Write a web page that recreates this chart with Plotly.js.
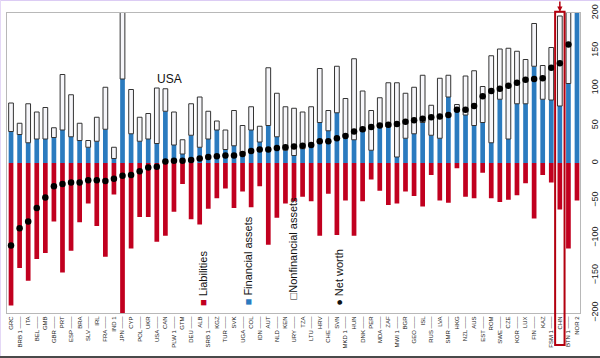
<!DOCTYPE html>
<html>
<head>
<meta charset="utf-8">
<script src="https://cdn.plot.ly/plotly-3.0.1.min.js"></script>
<style>
  html, body { margin: 0; padding: 0; background: #ffffff; }
  #wrap { position: relative; width: 600px; height: 358px; overflow: hidden; }
  #chart { position: absolute; left: 0; top: 0; width: 600px; height: 358px; }
  #topline { position: absolute; left: 0; top: 0; width: 600px; height: 1px; background: #dcccf4; }
  #leftline { position: absolute; left: 0; top: 0; width: 1px; height: 358px; background: #e4d8f6; }
  #bottomband { position: absolute; left: 0; top: 356px; width: 600px; height: 2px; background: #4a4a4a; }
</style>
</head>
<body>
<div id="wrap">
  <div id="chart"></div>
  <div id="topline"></div>
  <div id="leftline"></div>
  <div id="bottomband"></div>
</div>
<script>
// Country codes (x categories)
const categories = ["GRC","BRB 1","ITA","BEL","GMB","GBR","PRT","ESP","BRA","SLV","IRL","FRA","IND 1","JPN","CYP","POL","UKR","USA","CAN","PLW 1","GTM","DEU","ALB","SRB 1","KGZ","TUR","SVK","UGA","COL","IDN","AUT","NLD","KEN","URY","TZA","LTU","HRV","CHE","SVN","MKD 1","HUN","DNK","PER","MDA","ZAF","MWI 1","BGR","GEO","ISL","RUS","LVA","SMR","HKG","NZL","AUS","EST","ROM","SWE","CZE","KOR","LUX","FIN","KAZ","FSM 1","CHN","BTN 1","NOR 2"];

// Liabilities (negative)
const liabilities = [-190,-140,-157,-128,-120,-78,-146,-117,-79,-54,-84,-125,-42,-225,-114,-72,-72,-105,-97,-65,-28,-75,-82,-61,-47,-34,-60,-38,-59,-31,-109,-73,-54,-51,-45,-51,-97,-41,-96,-50,-97,-51,-22,-37,-56,-54,-38,-44,-58,-16,-50,-53,-7,-45,-47,-13,-47,-52,-49,-43,-27,-74,-16,-26,-62,-114,-50];

// Financial assets
const financialAssets = [42,38,27,32,32,34,44,35,30,21,29,45,6,112,39,29,32,26,69,24,12,37,21,32,44,18,23,13,44,28,50,35,17,10,19,26,54,43,67,35,31,42,17,48,48,8,33,39,54,37,33,88,73,64,50,54,27,85,32,79,79,129,85,84,76,106,240];

// Nonfinancial assets (stacked on top of financial assets)
const nonfinancialAssets = [38,15,52,36,42,13,74,56,23,9,32,56,15,96,59,32,34,74,30,44,19,42,67,37,12,26,47,37,31,21,77,58,58,63,49,49,72,27,62,51,108,54,53,39,59,99,60,62,63,40,80,29,5,52,73,48,116,67,121,70,59,57,45,70,120,166,40];

// Net worth
const netWorth = [-110,-87,-78,-60,-46,-31,-28,-26,-26,-23,-23,-24,-21,-17,-16,-11,-6,-5,2,3,3,4,6,8,9,10,10,12,16,18,18,20,21,22,23,24,29,29,33,36,42,45,48,50,51,52,55,57,59,61,62,64,71,71,76,89,96,99,103,107,111,112,113,127,133,158,240];

// Tick labels: every second label is pushed to a lower row with a leader line
const tickLabels = categories.map((c, i) => (i % 2 === 1 ? c + " \u2014\u2014" : c));
const yTicks = [-200, -150, -100, -50, 0, 50, 100, 150, 200];

const highlight = "CHN";
const hIdx = categories.indexOf(highlight);

const RED = "#c1001f", BLUE = "#2b7bbf";

const traces = [
  { type: "bar", name: "Liabilities", x: categories, y: liabilities,
    marker: { color: RED, line: { width: 0 } }, showlegend: false, hoverinfo: "x+y" },
  { type: "bar", name: "Financial assets", x: categories, y: financialAssets,
    marker: { color: BLUE, line: { width: 0 } }, showlegend: false, hoverinfo: "x+y" },
  { type: "bar", name: "Nonfinancial assets", x: categories, y: nonfinancialAssets,
    marker: { color: "#f6f6fa", line: { color: "#333333", width: 1 } }, showlegend: false, hoverinfo: "x+y" },
  { type: "scatter", mode: "markers", name: "Net worth", x: categories, y: netWorth,
    marker: { color: "#000000", size: 6.5 }, showlegend: false, hoverinfo: "x+y" }
];

const layout = {
  width: 600, height: 358,
  margin: { l: 7, r: 20, t: 13, b: 45, pad: 0 },
  paper_bgcolor: "#ffffff", plot_bgcolor: "#ffffff",
  barmode: "relative", bargap: 0.45,
  font: { family: "Liberation Sans, Arial, sans-serif", color: "#222222" },
  xaxis: {
    type: "category", tickmode: "array", tickvals: categories, ticktext: tickLabels,
    tickangle: -90, tickfont: { size: 6, color: "#222222" },
    range: [-0.47, 66.35], showgrid: false, zeroline: false,
    showline: true, mirror: true, linecolor: "#b8b8b8", linewidth: 1, ticks: ""
  },
  yaxis: {
    side: "right", range: [-200, 200], tickmode: "array", tickvals: yTicks,
    tickangle: -90, tickfont: { size: 9, color: "#222222" }, ticklabelstandoff: 6,
    showgrid: false, zeroline: false,
    showline: true, mirror: true, linecolor: "#b8b8b8", linewidth: 1, ticks: ""
  },
  shapes: [
    { type: "rect", xref: "x", yref: "paper", x0: hIdx - 0.55, x1: hIdx + 0.55, y0: -0.107, y1: 1.004,
      line: { color: "#b3000f", width: 2 }, fillcolor: "rgba(0,0,0,0)", layer: "above" }
  ],
  annotations: [
    { xref: "x", yref: "y", x: "USA", y: 112, text: "USA", showarrow: false,
      xanchor: "left", yanchor: "middle", xshift: -2, font: { size: 12, color: "#111111" } },
    { xref: "x", yref: "paper", x: highlight, y: 1.004, text: "", showarrow: true,
      ax: 0, ay: -13, arrowhead: 2, arrowsize: 0.7, arrowwidth: 1.5, arrowcolor: "#b3000f" },
    { xref: "paper", yref: "paper", x: 0.342, y: 0.018, xanchor: "center", yanchor: "bottom",
      textangle: -90, showarrow: false, font: { size: 11, color: "#111111" },
      text: "<span style='color:" + RED + "'>\u25A0</span> Liabilities" },
    { xref: "paper", yref: "paper", x: 0.421, y: 0.018, xanchor: "center", yanchor: "bottom",
      textangle: -90, showarrow: false, font: { size: 11, color: "#111111" },
      text: "<span style='color:" + BLUE + "'>\u25A0</span> Financial assets" },
    { xref: "paper", yref: "paper", x: 0.499, y: 0.04, xanchor: "center", yanchor: "bottom",
      textangle: -90, showarrow: false, font: { size: 11, color: "#111111" },
      text: "\u25A1Nonfinancial assets" },
    { xref: "paper", yref: "paper", x: 0.579, y: 0.018, xanchor: "center", yanchor: "bottom",
      textangle: -90, showarrow: false, font: { size: 11, color: "#111111" },
      text: "\u25CF Net worth" }
  ]
};

Plotly.newPlot("chart", traces, layout, { displayModeBar: false, staticPlot: true });
</script>
</body>
</html>
